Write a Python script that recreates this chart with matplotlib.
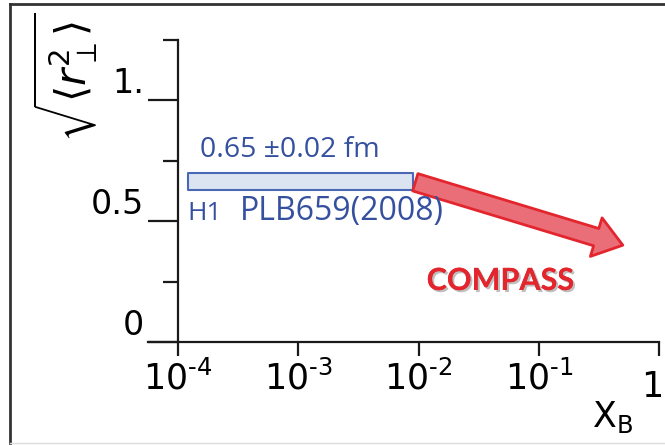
import matplotlib
matplotlib.use("Agg")
import matplotlib.pyplot as plt
import matplotlib.patheffects as pe
import matplotlib.transforms as mtransforms
from matplotlib.patches import FancyArrowPatch
from matplotlib.lines import Line2D

# -----------------------------
# Data
# -----------------------------
x_ticks = [1e-4, 1e-3, 1e-2, 1e-1, 1]
x_tick_labels = ["$\\mathregular{10^{\u20104}}$", "$\\mathregular{10^{\u20103}}$",
                 "$\\mathregular{10^{\u20102}}$", "$\\mathregular{10^{\u20101}}$", "1"]
y_major = [0, 0.5, 1]
y_major_labels = ["0", "0.5", "1."]
y_minor = [0.25, 0.75, 1.25]

h1_x = [1.2e-4, 9.0e-3]
h1_y = [0.63, 0.70]
h1_value = "0.65 \u00b10.02 fm"
h1_exp = "H1"
h1_ref = "PLB659(2008)"

compass_x = [9.4e-3, 0.50]
compass_y = [0.66, 0.40]
compass_label = "COMPASS"

BLUE = "#3650a0"
RED = "#e3262d"
W, H = 665, 445

# -----------------------------
# Figure
# -----------------------------
fig = plt.figure(figsize=(W / 100, H / 100), dpi=100)
ax = fig.add_axes([148 / W, (H - 342) / H, (659 - 148) / W, 302.5 / H])
ax.set_xscale("log")
ax.set_xlim(10 ** -4.25, 1)
ax.set_ylim(0, 1.25)
ax.patch.set_alpha(0)

for s in ["top", "right"]:
    ax.spines[s].set_visible(False)
ax.spines["left"].set_position(("data", 1e-4))
ax.spines["left"].set_bounds(0, 1.25)
for s in ["left", "bottom"]:
    ax.spines[s].set_linewidth(1.6)
    ax.spines[s].set_color("#1a1a1a")
    ax.spines[s].set_clip_on(False)

ax.set_xticks(x_ticks)
ax.set_xticklabels(x_tick_labels)
ax.xaxis.set_minor_locator(plt.NullLocator())
ax.tick_params(axis="x", direction="out", length=10, width=1.6, color="#1a1a1a",
               labelsize=25, pad=3)
last = ax.get_xticklabels()[-1]
last.set_transform(last.get_transform() + mtransforms.ScaledTranslation(-5 / 72, -7 / 72, fig.dpi_scale_trans))

ax.set_yticks(y_major)
ax.set_yticklabels(y_major_labels)
ax.set_yticks(y_minor, minor=True)
ax.tick_params(axis="y", which="major", direction="out", length=21.6, width=1.6,
               color="#1a1a1a", labelsize=24, pad=3)
ax.tick_params(axis="y", which="minor", direction="out", length=10.8, width=1.6,
               color="#1a1a1a")
for lab in ax.get_yticklabels():
    lab.set_va("bottom")

# H1 band
ax.fill_between(h1_x, h1_y[0], h1_y[1], facecolor="#dce4f2", edgecolor="#4a68b5", linewidth=1.5)
ax.text(1.52e-4, 0.765, h1_value, color=BLUE, fontsize=20.5, family="Open Sans", va="baseline")
ax.text(1.2e-4, 0.504, h1_exp, color=BLUE, fontsize=19, family="Open Sans", va="baseline")
ax.text(3.28e-4, 0.504, h1_ref, color=BLUE, fontsize=23, family="Open Sans", va="baseline")

# COMPASS arrow
arrow = FancyArrowPatch((compass_x[0], compass_y[0]), (compass_x[1], compass_y[1]),
                        arrowstyle="simple,tail_width=13,head_width=29,head_length=20",
                        facecolor="#ea6e78", edgecolor=RED, linewidth=2,
                        shrinkA=0, shrinkB=0, clip_on=False)
ax.add_patch(arrow)
ax.text(0.0478, 0.215, compass_label, color=RED, fontsize=22, family="Lato",
        fontweight="bold", ha="center", va="baseline",
        path_effects=[pe.withSimplePatchShadow(offset=(1.5, -1.5), shadow_rgbFace="gray", alpha=0.5),
                      pe.Normal()])

# axis titles
fig.text(66 / W, 1 - 77 / H, r"$\sqrt{\langle r_{\perp}^{2}\rangle}$", rotation=90,
         fontsize=30, ha="center", va="center")
fig.text(592 / W, 1 - 427 / H, r"$\mathregular{X_B}$", fontsize=25, ha="left", va="baseline")

# outer frame
fig.add_artist(Line2D([10 / W, 10 / W], [1 - 4 / H, 1 - 443 / H], transform=fig.transFigure,
                      color="#333333", linewidth=2))
fig.add_artist(Line2D([10 / W, 1], [1 - 4 / H, 1 - 4 / H], transform=fig.transFigure,
                      color="#333333", linewidth=2))
fig.add_artist(Line2D([10 / W, 1], [1 - 443 / H, 1 - 443 / H], transform=fig.transFigure,
                      color="#dddddd", linewidth=1))

fig.savefig("out.png", dpi=100)
